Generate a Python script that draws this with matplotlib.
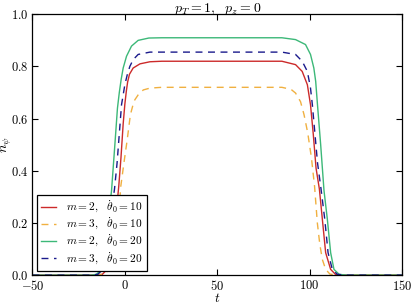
import matplotlib

matplotlib.use("Agg")
import matplotlib.pyplot as plt
from matplotlib.ticker import FuncFormatter

plt.rcParams["mathtext.fontset"] = "cm"
plt.rcParams["font.family"] = "serif"
plt.rcParams["font.serif"] = ["DejaVu Serif"]

# m = 2, theta_dot_0 = 10 (red, solid)
t_red = [-50, -16, -12.2, -9.5, -7, -5, -3.3, -2.1, -0.9, 0.0, 0.8, 1.5, 2.5, 4.5, 8.2, 13.6, 20,
         85, 92.4, 96, 98.8, 100.5, 102, 103.5, 105.3, 106.9, 108.7, 111.4, 114, 118, 150]
n_red = [0, 0, 0.003, 0.022, 0.086, 0.215, 0.34, 0.45, 0.58, 0.655, 0.705, 0.74, 0.77, 0.794, 0.81, 0.818, 0.82,
         0.82, 0.807, 0.781, 0.73, 0.653, 0.54, 0.41, 0.33, 0.215, 0.086, 0.022, 0.003, 0, 0]

# m = 3, theta_dot_0 = 10 (orange, dashed)
t_orange = [-50, -16, -11, -8.5, -6.5, -5, -3.7, -2.2, -0.5, 1.3, 3, 4.5, 5.4, 7.2, 10, 13.6, 20,
            85, 90, 92.4, 95.1, 97, 99, 101, 102.7, 104.2, 105.5, 106.9, 108.7, 111, 115, 150]
n_orange = [0, 0, 0.004, 0.022, 0.06, 0.12, 0.2, 0.34, 0.43, 0.52, 0.615, 0.655, 0.672, 0.691, 0.71, 0.717, 0.72,
            0.72, 0.712, 0.698, 0.665, 0.615, 0.545, 0.45, 0.34, 0.2, 0.12, 0.06, 0.022, 0.004, 0, 0]

# m = 2, theta_dot_0 = 20 (green, solid)
t_green = [-50, -18, -15.4, -12.6, -10.8, -9, -7.2, -5.4, -4.0, -3.0, -2.0, -0.9, 0.9, 3.6, 7.2, 13, 20,
           85, 92.4, 97.8, 100.5, 102.3, 103.3, 104.2, 106, 107.8, 109.6, 111.4, 113.2, 116, 120, 150]
n_green = [0, 0, 0.003, 0.022, 0.086, 0.215, 0.324, 0.5, 0.64, 0.7, 0.75, 0.794, 0.839, 0.878, 0.9, 0.909, 0.91,
           0.91, 0.903, 0.884, 0.846, 0.794, 0.743, 0.66, 0.5, 0.324, 0.215, 0.086, 0.022, 0.003, 0, 0]

# m = 3, theta_dot_0 = 20 (blue, dashed)
t_blue = [-50, -18, -14.6, -11.9, -9.6, -7.8, -5.6, -4.2, -1.8, -0.9, 0, 1.3, 2.7, 4.5, 7.2, 13.6, 20,
          85, 92.4, 96, 98.8, 100.5, 101.5, 104.3, 106.2, 108.2, 110, 112.3, 115, 120, 150]
n_blue = [0, 0, 0.003, 0.022, 0.086, 0.215, 0.33, 0.43, 0.653, 0.691, 0.73, 0.768, 0.8, 0.826, 0.846, 0.855, 0.855,
          0.855, 0.846, 0.82, 0.781, 0.717, 0.653, 0.43, 0.33, 0.215, 0.086, 0.022, 0.003, 0, 0]

labels = [
    r"$m=2,\ \ \dot{\theta}_0=10$",
    r"$m=3,\ \ \dot{\theta}_0=10$",
    r"$m=2,\ \ \dot{\theta}_0=20$",
    r"$m=3,\ \ \dot{\theta}_0=20$",
]
x_ticks = [-50, 0, 50, 100, 150]
y_ticks = [0.0, 0.2, 0.4, 0.6, 0.8, 1.0]

fig = plt.figure(figsize=(4.11, 3.04), dpi=100)
ax = fig.add_axes([0.079, 0.095, 0.899, 0.858])

ax.plot(t_red, n_red, color="#cc2a2a", lw=1.0, label=labels[0])
ax.plot(t_orange, n_orange, color="#f0b040", lw=1.0, ls="--", dashes=(5, 4), label=labels[1])
ax.plot(t_green, n_green, color="#3cb878", lw=1.0, label=labels[2])
ax.plot(t_blue, n_blue, color="#1a1a8c", lw=1.0, ls="--", dashes=(5, 4), label=labels[3])

ax.set_xlim(-50, 150)
ax.set_ylim(0, 1.0)
ax.set_xticks(x_ticks)
ax.set_yticks(y_ticks)
ax.xaxis.set_major_formatter(FuncFormatter(lambda v, p: r"$%d$" % v))
ax.yaxis.set_major_formatter(FuncFormatter(lambda v, p: r"$%.1f$" % v))
ax.tick_params(direction="in", top=True, right=True, length=4, width=0.8, labelsize=9, pad=3)
for s in ax.spines.values():
    s.set_linewidth(0.9)

ax.set_title(r"$p_T=1,\ \ p_z=0$", fontsize=10, pad=2)
ax.set_xlabel(r"$t$", fontsize=9.5)
ax.set_ylabel(r"$n_\psi$", fontsize=10)
ax.xaxis.set_label_coords(0.5, -0.064)
ax.yaxis.set_label_coords(-0.05, 0.5)

leg = ax.legend(loc="lower left", fontsize=8.2, handlelength=1.3, borderaxespad=0.4,
                fancybox=False, framealpha=1, edgecolor="black", labelspacing=0.1,
                borderpad=0.35, handletextpad=0.9)
leg.get_frame().set_linewidth(0.9)

fig.savefig("out.png", dpi=100)
plt.close(fig)
